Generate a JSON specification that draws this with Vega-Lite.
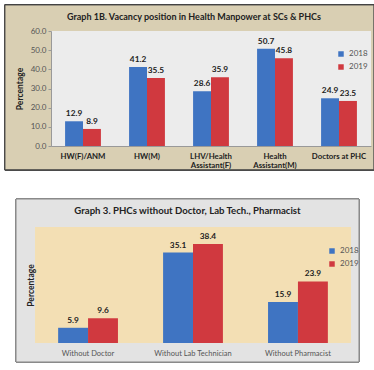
{
  "$schema": "https://vega.github.io/schema/vega-lite/v6.json",
  "background": "white",
  "padding": {"left": 4, "top": 4, "right": 0, "bottom": 0},
  "spacing": 27,
  "resolve": {"scale": {"color": "independent", "xOffset": "independent", "x": "independent", "y": "independent"}, "legend": {"color": "independent"}, "axis": {"x": "independent", "y": "independent"}},
  "config": {
    "font": "Lato",
    "view": {"stroke": null},
    "axis": {"zindex": 1},
    "legend": {"zindex": 1},
    "title": {"zindex": 1}
  },
  "vconcat": [
    {
      "width": 320,
      "height": 115,
      "title": {"text": "Graph 1B. Vacancy position in Health Manpower at SCs & PHCs", "fontSize": 9, "fontWeight": "bold", "color": "#222222", "frame": "group", "anchor": "middle", "dx": -17, "offset": -18, "zindex": 1},
      "data": {"values": [
        {"category": "HW(F)/ANM", "year": "2018", "value": 12.9},
        {"category": "HW(F)/ANM", "year": "2019", "value": 8.9},
        {"category": "HW(M)", "year": "2018", "value": 41.2},
        {"category": "HW(M)", "year": "2019", "value": 35.5},
        {"category": "LHV/Health Assistant(F)", "year": "2018", "value": 28.6},
        {"category": "LHV/Health Assistant(F)", "year": "2019", "value": 35.9},
        {"category": "Health Assistant(M)", "year": "2018", "value": 50.7},
        {"category": "Health Assistant(M)", "year": "2019", "value": 45.8},
        {"category": "Doctors at PHC", "year": "2018", "value": 24.9},
        {"category": "Doctors at PHC", "year": "2019", "value": 23.5}
      ]},
      "resolve": {"scale": {"x": "independent"}},
      "layer": [
        {
          "mark": {"type": "rect", "fill": "#d9cfb3", "stroke": "#444444", "strokeWidth": 1},
          "encoding": {
            "x": {"datum": -0.144, "type": "quantitative", "scale": {"domain": [0, 1]}, "axis": null},
            "x2": {"datum": 1.009},
            "y": {"datum": -12.4, "type": "quantitative", "scale": {"domain": [0, 60], "nice": false, "zero": false},
                  "axis": {"zindex": 2, "title": "Percentage", "titleFontSize": 8.5, "titleColor": "#222222", "titleFontWeight": "bold", "titlePadding": 6,
                           "tickCount": 6, "labelOverlap": false, "format": ".1f", "labelFontSize": 8, "labelColor": "#555555", "grid": false, "tickSize": 3, "tickColor": "#999999", "domainColor": "#999999", "labelPadding": 2}},
            "y2": {"datum": 73.6}
          }
        },
        {
          "mark": {"type": "rect", "fill": "#ececec"},
          "encoding": {
            "x": {"datum": 0, "type": "quantitative", "scale": {"domain": [0, 1]}, "axis": null},
            "x2": {"datum": 1},
            "y": {"datum": 0, "type": "quantitative"},
            "y2": {"datum": 60}
          }
        },
        {
          "layer": [
            {"mark": {"type": "bar"}},
            {"mark": {"type": "text", "baseline": "bottom", "dy": -3, "fontSize": 8.3, "fontWeight": "bold", "fill": "#222222"},
             "encoding": {"text": {"field": "value", "type": "quantitative", "format": ".1f"}}}
          ],
          "encoding": {
            "x": {"field": "category", "type": "nominal", "sort": null,
                  "scale": {"paddingInner": 0.44, "paddingOuter": 0.22},
                  "axis": {"zindex": 2, "title": null, "labelAngle": 0, "labelFontSize": 7.8, "labelColor": "#222222", "labelFontWeight": "bold", "ticks": false, "domain": true, "domainColor": "#999999", "labelPadding": 6, "labelLineHeight": 9,
                           "labelExpr": "datum.label == 'LHV/Health Assistant(F)' ? ['LHV/Health', 'Assistant(F)'] : datum.label == 'Health Assistant(M)' ? ['Health', 'Assistant(M)'] : datum.label"}},
            "xOffset": {"field": "year", "type": "nominal"},
            "y": {"field": "value", "type": "quantitative"},
            "color": {"field": "year", "type": "nominal",
                      "scale": {"domain": ["2018", "2019"], "range": ["#3f74c2", "#d0393f"]},
                      "legend": {"title": null, "orient": "none", "legendX": 286, "legendY": 19, "symbolType": "square", "symbolSize": 30, "labelFontSize": 8, "labelColor": "#555555", "rowPadding": 5, "symbolStrokeWidth": 0}}
          }
        }
      ]
    },
    {
      "width": 284,
      "height": 116,
      "title": {"text": "Graph 3. PHCs without Doctor, Lab Tech., Pharmacist", "fontSize": 9.6, "fontWeight": "bold", "color": "#222222", "frame": "group", "anchor": "middle", "dx": -5.5, "offset": -17, "zindex": 1},
      "data": {"values": [
        {"category": "Without Doctor", "year": "2018", "value": 5.9},
        {"category": "Without Doctor", "year": "2019", "value": 9.6},
        {"category": "Without Lab Technician", "year": "2018", "value": 35.1},
        {"category": "Without Lab Technician", "year": "2019", "value": 38.4},
        {"category": "Without Pharmacist", "year": "2018", "value": 15.9},
        {"category": "Without Pharmacist", "year": "2019", "value": 23.9}
      ]},
      "resolve": {"scale": {"x": "independent"}},
      "layer": [
        {
          "mark": {"type": "rect", "fill": "#e3e3e3", "stroke": "#888888", "strokeWidth": 1},
          "encoding": {
            "x": {"datum": -0.1232, "type": "quantitative", "scale": {"domain": [0, 1]}, "axis": null},
            "x2": {"datum": 1.0845},
            "y": {"datum": -7.37, "type": "quantitative", "scale": {"domain": [0, 45], "nice": false, "zero": false},
                  "axis": {"zindex": 2, "title": "Percentage", "titleFontSize": 8.5, "titleColor": "#222222", "titleFontWeight": "bold", "titlePadding": 16,
                           "labels": false, "ticks": false, "domain": false, "grid": false}},
            "y2": {"datum": 55.86}
          }
        },
        {
          "mark": {"type": "rect", "fill": "#f3dfb4"},
          "encoding": {
            "x": {"datum": -0.0546, "type": "quantitative", "scale": {"domain": [0, 1]}, "axis": null},
            "x2": {"datum": 1.0546},
            "y": {"datum": 0, "type": "quantitative"},
            "y2": {"datum": 45}
          }
        },
        {
          "layer": [
            {"mark": {"type": "bar"}},
            {"mark": {"type": "text", "baseline": "bottom", "dy": -3, "fontSize": 8.3, "fontWeight": "bold", "fill": "#222222"},
             "encoding": {"text": {"field": "value", "type": "quantitative", "format": ".1f"}}}
          ],
          "encoding": {
            "x": {"field": "category", "type": "nominal", "sort": null,
                  "scale": {"paddingInner": 0.43, "paddingOuter": 0.068},
                  "axis": {"zindex": 2, "title": null, "labelAngle": 0, "labelFontSize": 7.5, "labelColor": "#555555", "ticks": false, "domain": false, "labelPadding": 6}},
            "xOffset": {"field": "year", "type": "nominal"},
            "y": {"field": "value", "type": "quantitative"},
            "color": {"field": "year", "type": "nominal",
                      "scale": {"domain": ["2018", "2019"], "range": ["#3f74c2", "#d0393f"]},
                      "legend": {"title": null, "orient": "none", "legendX": 277, "legendY": 20, "symbolType": "square", "symbolSize": 30, "labelFontSize": 8, "labelColor": "#555555", "rowPadding": 5, "symbolStrokeWidth": 0}}
          }
        }
      ]
    }
  ]
}
